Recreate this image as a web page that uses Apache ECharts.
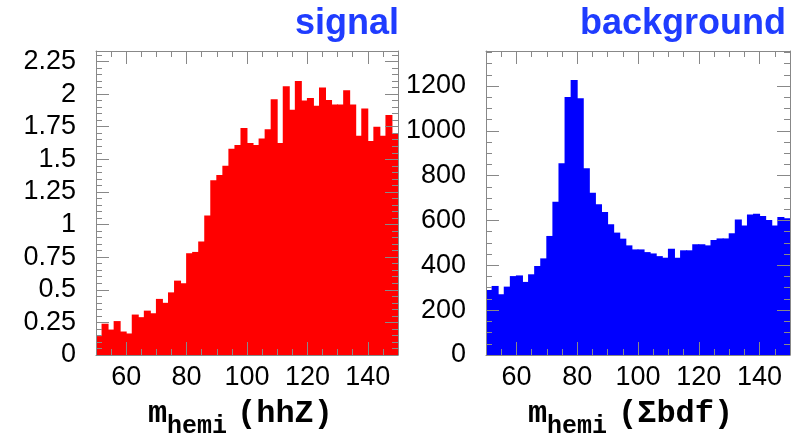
<!DOCTYPE html>
<html>
<head>
<meta charset="utf-8">
<script src="https://cdn.jsdelivr.net/npm/echarts@6/dist/echarts.min.js"></script>
<style>
  html, body { margin: 0; padding: 0; background: #fff; }
  #main { width: 800px; height: 442px; }
</style>
</head>
<body>
<div id="main"></div>
<script>
// bin centres of m_hemi, 2 GeV bins from 50 to 150
var binCenters = [51, 53, 55, 57, 59, 61, 63, 65, 67, 69,
                  71, 73, 75, 77, 79, 81, 83, 85, 87, 89,
                  91, 93, 95, 97, 99, 101, 103, 105, 107, 109,
                  111, 113, 115, 117, 119, 121, 123, 125, 127, 129,
                  131, 133, 135, 137, 139, 141, 143, 145, 147, 149];

// hhZ signal
var signalCounts = [0.145, 0.24, 0.195, 0.26, 0.18, 0.165, 0.31, 0.29, 0.34, 0.32,
                    0.43, 0.40, 0.48, 0.57, 0.55, 0.78, 0.79, 0.87, 1.07, 1.34,
                    1.38, 1.45, 1.58, 1.61, 1.74, 1.625, 1.61, 1.66, 1.73, 1.96,
                    1.625, 2.06, 1.88, 2.10, 1.95, 1.97, 1.91, 2.05, 1.955, 1.92,
                    1.92, 2.03, 1.92, 1.68, 1.89, 1.64, 1.75, 1.68, 1.84, 1.70];

// sum of bdf backgrounds
var backgroundCounts = [290, 308, 271, 305, 352, 355, 326, 360, 397, 431,
                        531, 684, 855, 1151, 1227, 1145, 833, 724, 672, 638,
                        583, 546, 519, 489, 471, 471, 459, 453, 441, 434,
                        474, 434, 467, 467, 494, 494, 489, 513, 520, 520,
                        543, 604, 578, 627, 630, 620, 602, 578, 616, 610];

var xRange = [50, 150];
var signalYMax = 2.33, signalYStep = 0.25;
var backgroundYMax = 1356, backgroundYStep = 200;

var frameColor = '#888';
var labelFont = 'Liberation Sans';

function xAxes(g) {
    var base = {
        type: 'value', gridIndex: g, min: xRange[0], max: xRange[1], z: 10,
        axisLine: { show: true, lineStyle: { color: frameColor, width: 1 } },
        axisTick: { show: true, inside: true, length: 13, lineStyle: { color: frameColor } },
        minorTick: { show: true, splitNumber: 4, length: 6, lineStyle: { color: frameColor } },
        splitLine: { show: false }
    };
    return [
        { type: 'category', gridIndex: g, data: binCenters, show: false, position: 'bottom', boundaryGap: true },
        Object.assign({}, base, {
            position: 'bottom',
            axisLabel: { margin: 9, fontSize: 27, color: '#000', fontFamily: labelFont,
                         showMinLabel: false, showMaxLabel: false }
        }),
        Object.assign({}, base, { position: 'top', axisLabel: { show: false } })
    ];
}

function yAxes(g, ymax, step, minorSplit) {
    var base = {
        type: 'value', gridIndex: g, min: 0, max: ymax, interval: step, z: 10,
        axisLine: { show: true, lineStyle: { color: frameColor, width: 1 } },
        axisTick: { show: true, inside: true, length: 13, lineStyle: { color: frameColor } },
        minorTick: { show: true, splitNumber: minorSplit, length: 6, lineStyle: { color: frameColor } },
        splitLine: { show: false }
    };
    return [
        Object.assign({}, base, {
            position: 'left',
            axisLabel: { margin: 20, fontSize: 27, color: '#000', fontFamily: labelFont,
                         showMaxLabel: false,
                         formatter: function (v) { return String(+v.toFixed(2)); } }
        }),
        Object.assign({}, base, { position: 'right', axisLabel: { show: false } })
    ];
}

var dom = document.getElementById('main');
var myChart = echarts.init(dom, null, { renderer: 'canvas' });

var monoFont = '"Liberation Mono", "Courier New", monospace';

var option = {
    animation: false,
    backgroundColor: '#fff',
    grid: [
        { left: 96, top: 51, width: 302, height: 304 },
        { left: 486, top: 51, width: 304, height: 304 }
    ],
    xAxis: xAxes(0).concat(xAxes(1)),
    yAxis: yAxes(0, signalYMax, signalYStep, 5).concat(yAxes(1, backgroundYMax, backgroundYStep, 4)),
    series: [
        {
            name: 'signal', type: 'bar', xAxisIndex: 0, yAxisIndex: 0,
            data: signalCounts, barWidth: '116%', clip: true,
            itemStyle: { color: '#ff0000' }
        },
        {
            name: 'background', type: 'bar', xAxisIndex: 3, yAxisIndex: 2,
            data: backgroundCounts, barWidth: '116%', clip: true,
            itemStyle: { color: '#0000ff' }
        }
    ],
    graphic: [
        { type: 'text', left: 295, top: 6, style: { text: 'signal', font: 'bold 36px "Liberation Sans"', fill: '#1f3cff' } },
        { type: 'text', left: 580, top: 6, style: { text: 'background', font: 'bold 36px "Liberation Sans"', fill: '#1f3cff' } },
        // x axis titles: m_hemi(hhZ), m_hemi(Σbdf)
        { type: 'text', left: 148, top: 398, style: { text: 'm', font: 'bold 32px ' + monoFont, fill: '#000' } },
        { type: 'text', left: 167, top: 414, style: { text: 'hemi', font: 'bold 25px ' + monoFont, fill: '#000' } },
        { type: 'text', left: 237, top: 398, style: { text: '(hhZ)', font: 'bold 32px ' + monoFont, fill: '#000' } },
        { type: 'text', left: 528, top: 398, style: { text: 'm', font: 'bold 32px ' + monoFont, fill: '#000' } },
        { type: 'text', left: 547, top: 414, style: { text: 'hemi', font: 'bold 25px ' + monoFont, fill: '#000' } },
        { type: 'text', left: 618, top: 398, style: { text: '(\u03A3bdf)', font: 'bold 32px ' + monoFont, fill: '#000' } }
    ]
};

myChart.setOption(option);
window.addEventListener('resize', myChart.resize);
</script>
</body>
</html>
